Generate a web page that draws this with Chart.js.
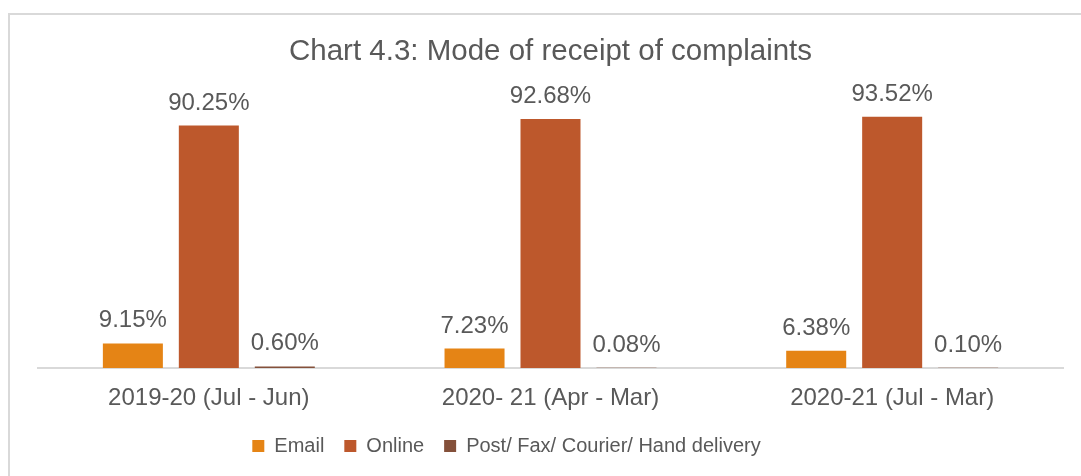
<!DOCTYPE html>
<html>
<head>
<meta charset="utf-8">
<script src="https://cdn.jsdelivr.net/npm/chart.js@4"></script>
<style>
    html, body { margin: 0; padding: 0; background: #fff; overflow: hidden; }
    #wrap { position: relative; width: 1081px; height: 476px; }
    #frame { position: absolute; left: 8px; top: 13px; width: 1100px; height: 500px; border: 2px solid #d9d9d9; box-sizing: border-box; }
    #modeChart { position: absolute; left: 0; top: 0; }
</style>
</head>
<body>
<div id="wrap">
    <div id="frame"></div>
    <canvas id="modeChart" width="1081" height="476"></canvas>
</div>
<script>
const periods = ['2019-20 (Jul - Jun)', '2020- 21 (Apr - Mar)', '2020-21 (Jul - Mar)'];
const emailShare = [9.15, 7.23, 6.38];
const onlineShare = [90.25, 92.68, 93.52];
const postShare = [0.60, 0.08, 0.10];

const textColor = '#595959';
const fontFamily = '"Liberation Sans", Arial, sans-serif';

// draws the % value above each bar, like the excel data labels
const valueLabels = {
    id: 'valueLabels',
    afterDatasetsDraw(chart) {
        const ctx = chart.ctx;
        ctx.save();
        ctx.font = '24px ' + fontFamily;
        ctx.fillStyle = textColor;
        ctx.textAlign = 'center';
        ctx.textBaseline = 'alphabetic';
        chart.data.datasets.forEach(function (ds, i) {
            chart.getDatasetMeta(i).data.forEach(function (bar, j) {
                ctx.fillText(ds.data[j].toFixed(2) + '%', bar.x, bar.y - 16);
            });
        });
        ctx.restore();
    }
};

// excel puts the legend a bit left of centre
const legendNudge = {
    id: 'legendNudge',
    afterLayout(chart) {
        if (chart.legend) {
            chart.legend.left -= 44;
            chart.legend.right -= 44;
        }
    }
};

document.addEventListener('DOMContentLoaded', function () {
    const ctx = document.getElementById('modeChart').getContext('2d');

    new Chart(ctx, {
        type: 'bar',
        data: {
            labels: periods,
            datasets: [
                { label: 'Email', data: emailShare, backgroundColor: '#E58415' },
                { label: 'Online', data: onlineShare, backgroundColor: '#BD582C' },
                { label: 'Post/ Fax/ Courier/ Hand delivery', data: postShare, backgroundColor: '#84503A' }
            ]
        },
        options: {
            responsive: false,
            animation: false,
            devicePixelRatio: 1,
            categoryPercentage: 0.667,
            barPercentage: 0.79,
            layout: {
                padding: { left: 38, right: 18, top: 0, bottom: 10 }
            },
            scales: {
                y: {
                    display: false,
                    min: 0,
                    max: 100
                },
                x: {
                    grid: { display: false, drawTicks: false },
                    border: { display: true, color: '#d9d9d9', width: 2 },
                    ticks: {
                        color: textColor,
                        padding: 16,
                        font: { family: fontFamily, size: 24 }
                    },
                    afterFit: function (scale) {
                        scale.height = 48;
                    }
                }
            },
            plugins: {
                title: {
                    display: true,
                    text: 'Chart 4.3: Mode of receipt of complaints',
                    color: textColor,
                    padding: { top: 34, bottom: 30 },
                    font: { family: fontFamily, size: 29.5, weight: 'normal' }
                },
                legend: {
                    display: true,
                    position: 'bottom',
                    labels: {
                        color: textColor,
                        boxWidth: 12,
                        boxHeight: 12,
                        padding: 20,
                        font: { family: fontFamily, size: 20 }
                    }
                },
                tooltip: { enabled: false }
            }
        },
        plugins: [valueLabels, legendNudge]
    });
});
</script>
</body>
</html>
